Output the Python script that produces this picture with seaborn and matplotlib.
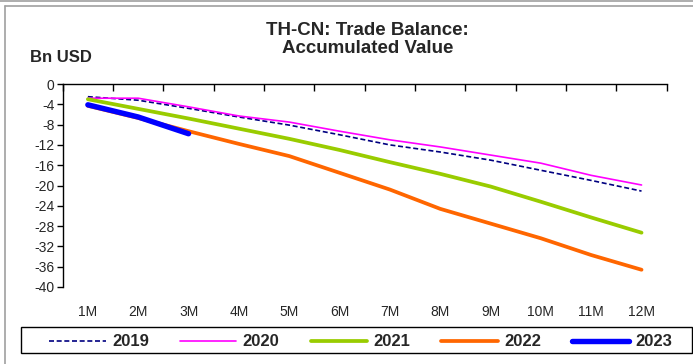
import matplotlib
matplotlib.use("Agg")
import matplotlib.pyplot as plt
from matplotlib.lines import Line2D
from matplotlib.patches import Rectangle
from matplotlib.ticker import FixedLocator
import seaborn as sns
import pandas as pd
import numpy as np

months = ["1M", "2M", "3M", "4M", "5M", "6M", "7M", "8M", "9M", "10M", "11M", "12M"]
y2019 = [-2.5, -3.2, -4.8, -6.5, -8.1, -10.0, -12.0, -13.4, -15.0, -17.0, -19.0, -21.1]
y2020 = [-2.8, -2.8, -4.5, -6.3, -7.5, -9.3, -11.0, -12.4, -14.0, -15.6, -18.0, -19.9]
y2021 = [-3.0, -4.9, -6.8, -8.8, -10.8, -13.0, -15.4, -17.7, -20.2, -23.2, -26.3, -29.3]
y2022 = [-4.3, -6.7, -9.3, -11.8, -14.2, -17.5, -20.8, -24.6, -27.5, -30.4, -33.7, -36.6]
y2023 = [-4.1, -6.5, -9.8]
yticks = [0, -4, -8, -12, -16, -20, -24, -28, -32, -36, -40]

series = {"2019": y2019, "2020": y2020, "2021": y2021, "2022": y2022, "2023": y2023}
colors = {"2019": "#000080", "2020": "#FF00FF", "2021": "#99CC00", "2022": "#FF6600", "2023": "#0000FF"}
widths = {"2019": 1.2, "2020": 1.2, "2021": 2.7, "2022": 2.7, "2023": 3.9}
styles = {"2019": (0, (3, 1.6)), "2020": "-", "2021": "-", "2022": "-", "2023": "-"}

rows = []
for yr, vals in series.items():
    for i, v in enumerate(vals):
        rows.append({"year": yr, "idx": i, "value": v})
df = pd.DataFrame(rows)

sns.set_style("white")
plt.rcParams["font.family"] = ["Liberation Sans", "DejaVu Sans"]

W, H = 693, 364
fig = plt.figure(figsize=(W / 100, H / 100), dpi=100)
ax = fig.add_axes([62.7 / W, 1 - 287 / H, (666.7 - 62.7) / W, (287 - 84) / H])

handles = []
for yr in series:
    sub = df[df["year"] == yr]
    sns.lineplot(data=sub, x="idx", y="value", ax=ax, color=colors[yr],
                 linewidth=widths[yr], solid_capstyle="round", dash_capstyle="butt")
    ln = ax.lines[-1]
    ln.set_linestyle(styles[yr])
    handles.append(Line2D([0], [0], color=colors[yr], linewidth=widths[yr],
                          linestyle=styles[yr], solid_capstyle="round"))

ax.set_xlim(-0.5, len(months) - 0.5)
ax.set_ylim(-40, 0)
ax.set_xticks(range(len(months)))
ax.set_xticklabels(months, fontsize=10)
ax.xaxis.set_minor_locator(FixedLocator(np.arange(-0.5, len(months), 1.0)))
ax.tick_params(axis="x", which="major", length=0, pad=13)
ax.tick_params(axis="x", which="minor", top=True, bottom=False, direction="in",
               length=5, width=1, color="black")
ax.set_yticks(yticks)
ax.set_yticklabels([str(t) for t in yticks], fontsize=10)
ax.tick_params(axis="y", which="major", left=True, direction="out", length=4,
               width=1, color="black", pad=2)
ax.set_xlabel("")
ax.set_ylabel("")
ax.grid(False)
for s in ["right", "bottom"]:
    ax.spines[s].set_visible(False)
for s in ["top", "left"]:
    ax.spines[s].set_color("black")
    ax.spines[s].set_linewidth(1)
if ax.get_legend():
    ax.get_legend().remove()

fig.text(367.5 / W, 1 - 39.5 / H, "TH-CN: Trade Balance:\nAccumulated Value",
         ha="center", va="center", fontsize=13.5, fontweight="bold", linespacing=1.1)
fig.text(30 / W, 1 - 57 / H, "Bn USD", ha="left", va="center",
         fontsize=12, fontweight="bold")

# legend box
fig.add_artist(Rectangle((21 / W, 1 - 353 / H), (692 - 21) / W, 26 / H,
                         transform=fig.transFigure, facecolor="white",
                         edgecolor="black", linewidth=1))
leg = fig.legend(handles, list(series.keys()), loc="center left",
                 bbox_to_anchor=(49 / W, 1 - 355 / H, (672 - 49) / W, 26 / H),
                 mode="expand", ncol=5, frameon=False,
                 handlelength=3.4, handletextpad=0.38, borderaxespad=0,
                 borderpad=0.0, prop={"weight": "bold", "size": 12})

# outer chart frame
fig.add_artist(Line2D([0, 1], [1 - 0.8 / H, 1 - 0.8 / H], color="#a0a0a0", linewidth=1.2))
fig.add_artist(Line2D([4.5 / W, 1], [1 - 6 / H, 1 - 6 / H], color="#a0a0a0", linewidth=1.2))
fig.add_artist(Line2D([4.5 / W, 4.5 / W], [0, 1 - 6 / H], color="#a0a0a0", linewidth=1.2))

fig.savefig("out.png", dpi=100)
